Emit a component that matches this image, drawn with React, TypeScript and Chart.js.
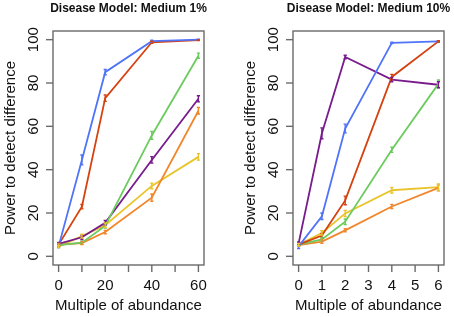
import React, { useEffect, useRef } from "react";
import { Chart, registerables } from "chart.js";
Chart.register(...registerables);

// ---- data ----
const leftTitle = "Disease Model: Medium 1%";
const rightTitle = "Disease Model: Medium 10%";
const xTitle = "Multiple of abundance";
const yTitle = "Power to detect difference";

const leftX = [0, 10, 20, 40, 60];
const leftXTicks = [0, 10, 20, 30, 40, 50, 60];
const leftXLabels = [0, 20, 40, 60];
const rightX = [0, 1, 2, 4, 6];
const rightXTicks = [0, 1, 2, 3, 4, 5, 6];
const rightXLabels = [0, 1, 2, 3, 4, 5, 6];
const yTicks = [0, 20, 40, 60, 80, 100];

const seriesNames = ["blue", "red", "green", "purple", "orange", "yellow"];
const seriesColors = ["#5074F8", "#D5420F", "#6CCB5E", "#781B8C", "#F2862A", "#E9C42A"];

// left panel (Medium 1%)
const leftBlue = [4.6, 44.5, 85.0, 99.3, 100];
const leftRed = [5.4, 22.9, 73.0, 98.8, 99.8];
const leftGreen = [5.2, 6.3, 14.0, 55.8, 92.6];
const leftPurple = [5.8, 8.8, 15.5, 44.5, 72.7];
const leftOrange = [5.4, 6.1, 11.2, 27.1, 67.2];
const leftYellow = [4.5, 9.3, 14.4, 32.5, 45.9];
const leftBlueErr = [0.6, 2.3, 1.2, 0.4, 0.2];
const leftRedErr = [0.6, 1.0, 1.5, 0.5, 0.2];
const leftGreenErr = [0.6, 0.7, 1.0, 1.8, 1.2];
const leftPurpleErr = [0.6, 1.0, 1.1, 1.5, 1.4];
const leftOrangeErr = [0.6, 0.7, 0.8, 1.7, 1.5];
const leftYellowErr = [0.6, 0.9, 1.0, 1.3, 1.5];

// right panel (Medium 10%)
const rightBlue = [4.6, 18.5, 59.0, 98.5, 99.2];
const rightRed = [5.4, 9.6, 25.8, 82.8, 99.2];
const rightGreen = [5.4, 7.8, 16.0, 49.2, 79.6];
const rightPurple = [6.0, 56.8, 92.0, 81.6, 79.2];
const rightOrange = [5.2, 6.8, 12.0, 23.0, 31.6];
const rightYellow = [5.4, 10.8, 19.8, 30.5, 31.9];
const rightBlueErr = [1.0, 1.5, 2.0, 0.3, 0.3];
const rightRedErr = [0.6, 1.0, 2.0, 1.2, 0.3];
const rightGreenErr = [0.6, 0.8, 1.3, 1.2, 1.8];
const rightPurpleErr = [0.6, 2.5, 0.8, 1.0, 1.4];
const rightOrangeErr = [0.6, 0.8, 0.7, 1.0, 1.4];
const rightYellowErr = [0.6, 1.0, 1.4, 1.3, 1.5];

const FONT = "'Liberation Sans', Arial, Helvetica, sans-serif";

const rAxesPlugin = {
  id: "rAxes",
  afterDatasetsDraw(chart: any) {
    const ctx = chart.ctx;
    const o = chart.options.plugins.rAxes;
    const xs = chart.scales.x;
    const ys = chart.scales.y;
    const { left, right, top, bottom } = chart.chartArea;
    ctx.save();
    // error bars
    chart.data.datasets.forEach((ds: any) => {
      ctx.strokeStyle = ds.borderColor;
      ctx.lineWidth = 1.4;
      ds.data.forEach((p: any, i: number) => {
        const e = ds.errs[i];
        const px = xs.getPixelForValue(p.x);
        const y1 = ys.getPixelForValue(p.y - e);
        const y2 = ys.getPixelForValue(p.y + e);
        ctx.beginPath();
        ctx.moveTo(px, y1);
        ctx.lineTo(px, y2);
        ctx.moveTo(px - 1.6, y1);
        ctx.lineTo(px + 1.6, y1);
        ctx.moveTo(px - 1.6, y2);
        ctx.lineTo(px + 1.6, y2);
        ctx.stroke();
      });
    });
    // box
    ctx.strokeStyle = "#6a6a6a";
    ctx.lineWidth = 1.4;
    ctx.strokeRect(left, top, right - left, bottom - top);
    // y ticks
    ctx.fillStyle = "#111";
    ctx.font = `15px ${FONT}`;
    o.yTicks.forEach((v: number) => {
      const y = ys.getPixelForValue(v);
      ctx.beginPath();
      ctx.moveTo(left, y);
      ctx.lineTo(left - 7, y);
      ctx.stroke();
      ctx.save();
      ctx.translate(left - 15, y);
      ctx.rotate(-Math.PI / 2);
      ctx.textAlign = "center";
      ctx.textBaseline = "alphabetic";
      ctx.fillText(String(v), 0, 0);
      ctx.restore();
    });
    // x ticks
    o.xTicks.forEach((v: number) => {
      const x = xs.getPixelForValue(v);
      ctx.beginPath();
      ctx.moveTo(x, bottom);
      ctx.lineTo(x, bottom + 7);
      ctx.stroke();
    });
    ctx.textAlign = "center";
    ctx.textBaseline = "alphabetic";
    o.xLabels.forEach((v: number) => {
      const x = xs.getPixelForValue(v);
      ctx.fillText(String(v), x, 290);
    });
    // axis titles
    const cx = (left + right) / 2;
    const cy = (top + bottom) / 2;
    ctx.fillText(o.xTitle, cx, 310);
    ctx.save();
    ctx.translate(left - 38, cy);
    ctx.rotate(-Math.PI / 2);
    ctx.fillText(o.yTitle, 0, 0);
    ctx.restore();
    // main title
    ctx.font = `bold 12px ${FONT}`;
    ctx.fillText(o.title, cx, 12);
    ctx.restore();
  },
};

type PanelProps = {
  title: string;
  xs: number[];
  series: number[][];
  errs: number[][];
  xTicks: number[];
  xLabels: number[];
  xmin: number;
  xmax: number;
  padLeft: number;
  padRight: number;
};

function Panel(props: PanelProps) {
  const ref = useRef<HTMLCanvasElement>(null);
  useEffect(() => {
    if (!ref.current) return;
    const datasets = props.series.map((vals, si) => ({
      label: seriesNames[si],
      data: vals.map((v, i) => ({ x: props.xs[i], y: v })),
      errs: props.errs[si],
      borderColor: seriesColors[si],
      backgroundColor: seriesColors[si],
      borderWidth: 1.8,
      pointRadius: 0,
      tension: 0,
      fill: false,
    }));
    const chart = new Chart(ref.current, {
      type: "line",
      data: { datasets: datasets as any },
      options: {
        animation: false,
        responsive: false,
        devicePixelRatio: 1,
        layout: { padding: { left: props.padLeft, right: props.padRight, top: 31, bottom: 52 } },
        scales: {
          x: { type: "linear", display: false, min: props.xmin, max: props.xmax },
          y: { type: "linear", display: false, min: -4, max: 104 },
        },
        plugins: {
          legend: { display: false },
          tooltip: { enabled: false },
          rAxes: {
            title: props.title,
            xTicks: props.xTicks,
            xLabels: props.xLabels,
            yTicks: yTicks,
            xTitle: xTitle,
            yTitle: yTitle,
          },
        } as any,
      },
      plugins: [rAxesPlugin],
    });
    return () => chart.destroy();
  }, []);
  return <canvas ref={ref} width={227} height={317} style={{ display: "block", width: 227, height: 317 }} />;
}

export default function App() {
  return (
    <div style={{ position: "fixed", left: 0, top: 0, width: 454, height: 317, background: "#fff", display: "flex" }}>
      <Panel
        title={leftTitle}
        xs={leftX}
        series={[leftBlue, leftRed, leftGreen, leftPurple, leftOrange, leftYellow]}
        errs={[leftBlueErr, leftRedErr, leftGreenErr, leftPurpleErr, leftOrangeErr, leftYellowErr]}
        xTicks={leftXTicks}
        xLabels={leftXLabels}
        xmin={-2.4}
        xmax={62.4}
        padLeft={53}
        padRight={23}
      />
      <Panel
        title={rightTitle}
        xs={rightX}
        series={[rightBlue, rightRed, rightGreen, rightPurple, rightOrange, rightYellow]}
        errs={[rightBlueErr, rightRedErr, rightGreenErr, rightPurpleErr, rightOrangeErr, rightYellowErr]}
        xTicks={rightXTicks}
        xLabels={rightXLabels}
        xmin={-0.24}
        xmax={6.24}
        padLeft={66}
        padRight={10}
      />
    </div>
  );
}
